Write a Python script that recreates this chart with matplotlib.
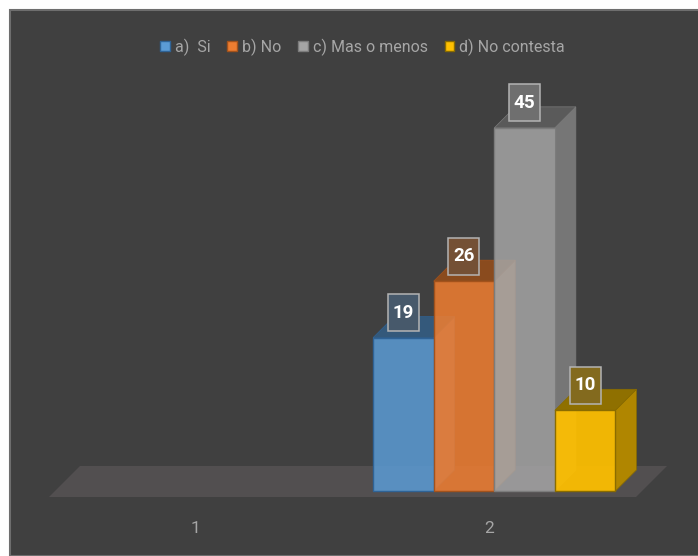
import matplotlib
matplotlib.use("Agg")
import matplotlib.pyplot as plt
from matplotlib.patches import Polygon, Rectangle, Patch

FONT = "Roboto"

# --- data ---
categories = [1, 2]
series_names = ["a)  Si", "b) No", "c) Mas o menos", "d) No contesta"]
series_values = [19, 26, 45, 10]
series_category = 2

# --- style ---
front_colors = ["#5B9BD5", "#ED7D31", "#A5A5A5", "#FFC000"]
front_alphas = [0.85, 0.87, 0.85, 0.93]
edge_colors = ["#2f6396", "#a2521c", "#7c7c7c", "#8a6c00"]
side_colors = ["#5f7a9f", "#ad7143", "#767676", "#b08600"]
top_colors = ["#34597b", "#8a4b1e", "#5a5a5a", "#8f7000"]
box_colors = ["#47596b", "#745035", "#6f6f6f", "#836a1e"]
BG = "#404040"
W, H = 698, 556
PX_PER_CAT = 293.5
PX_PER_VAL = 8.07
BAR_W = 60.6 / PX_PER_CAT
SHIFT = 5 / PX_PER_CAT
DX, DY = 21 / PX_PER_CAT, 21 / PX_PER_VAL

fig = plt.figure(figsize=(W / 100, H / 100), dpi=100, facecolor="white")
fig.add_artist(Rectangle((10 / W, 0), 1, 1 - 10 / H, transform=fig.transFigure,
                         fc=BG, ec="#6e6e6e", lw=1.5, zorder=-5))

ax = fig.add_axes([49 / W, (H - 491) / H, 587 / W, 403.5 / H])
ax.set_xlim(0.5, 2.5)
ax.set_ylim(0, 403.5 / PX_PER_VAL)
ax.patch.set_visible(False)
for s in ax.spines.values():
    s.set_visible(False)
ax.set_yticks([])
ax.set_xticks(categories)
ax.set_xticklabels([str(c) for c in categories], fontname=FONT, fontsize=12.5, color="#a6a6a6")
ax.tick_params(axis="x", length=0, pad=21.5)

# floor
fy0, fy1 = -6 / PX_PER_VAL, 25 / PX_PER_VAL
fdx = 31 / PX_PER_CAT
ax.add_patch(Polygon([(0.5, fy0), (2.5, fy0), (2.5 + fdx, fy1), (0.5 + fdx, fy1)],
                     fc="#524f50", ec="none", clip_on=False, zorder=1))

# bars
n = len(series_values)
for i, (val, fc, fa, ec, sc, tc) in enumerate(zip(series_values, front_colors, front_alphas,
                                                  edge_colors, side_colors, top_colors)):
    x0 = series_category + SHIFT + (i - n / 2) * BAR_W
    x1 = x0 + BAR_W
    z = 2 + i
    ax.add_patch(Polygon([(x1, 0), (x1 + DX, DY), (x1 + DX, val + DY), (x1, val)],
                         fc=sc, ec=ec, lw=0.5, zorder=z, clip_on=False))
    ax.add_patch(Polygon([(x0, val), (x1, val), (x1 + DX, val + DY), (x0 + DX, val + DY)],
                         fc=tc, ec=ec, lw=0.5, zorder=z, clip_on=False))
    ax.bar([x0 + BAR_W / 2], [val], width=BAR_W, color=fc, alpha=fa, zorder=z + 0.1,
           clip_on=False)
    ax.bar([x0 + BAR_W / 2], [val], width=BAR_W, fill=False, edgecolor=ec, linewidth=1.0,
           zorder=z + 0.2, clip_on=False)

# value labels
LW, LH = 31 / PX_PER_CAT, 37 / PX_PER_VAL
LOFF = 25 / PX_PER_VAL
for i, (val, bc) in enumerate(zip(series_values, box_colors)):
    cx = series_category + SHIFT + (i - n / 2 + 0.5) * BAR_W
    cy = val + LOFF
    ax.add_patch(Rectangle((cx - LW / 2, cy - LH / 2), LW, LH, fc=bc, ec="#b4b4b4",
                           lw=1.1, zorder=20, clip_on=False))
    ax.text(cx, cy, str(val), ha="center", va="center", color="white", fontname=FONT,
            fontweight="bold", fontsize=13.5, zorder=21, clip_on=False)

# legend
handles = [Patch(fc=c, ec=e, lw=1.0) for c, e in zip(front_colors, edge_colors)]
fig.legend(handles, series_names, loc="center", bbox_to_anchor=(362.5 / W, 1 - 47 / H), ncol=4,
           frameon=False, prop={"family": FONT, "size": 11.5}, labelcolor="#a6a6a6",
           handlelength=0.62, handleheight=0.62, handletextpad=0.3, columnspacing=1.05,
           borderpad=0, borderaxespad=0)

fig.savefig("out.png", dpi=100, facecolor="white")
